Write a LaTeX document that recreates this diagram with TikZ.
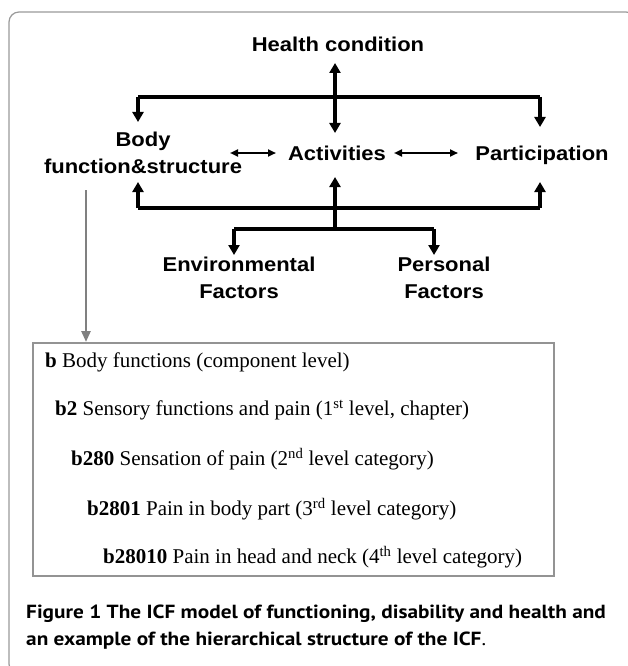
\documentclass[tikz,border=0pt]{standalone}
\usepackage{fontspec}
\setmainfont{Liberation Serif}
\newfontfamily\armfont{Liberation Sans}[FakeStretch=1.1]
\newfontfamily\capfont{PT Sans}[FakeStretch=1.12]
\usepackage{tikz}
\usetikzlibrary{arrows.meta}

\begin{document}
\begin{tikzpicture}[x=1pt,y=-1pt,
  icf/.style={font=\armfont\bfseries\fontsize{20}{27}\selectfont, align=center, inner sep=0pt},
  level/.style={font=\fontsize{21}{24}\selectfont, anchor=west, inner sep=0pt},
  bar/.style={line width=4pt},
  bararrow/.style={line width=4pt, -{Triangle[width=11pt,length=10pt]}},
  thin2/.style={line width=2.2pt, {Triangle[width=7pt,length=8pt]}-{Triangle[width=7pt,length=8pt]}},
  grayarrow/.style={line width=2.5pt, color=gray, -{Triangle[width=9pt,length=11pt]}}]
\useasboundingbox (0,0) rectangle (628,666);
\clip (0,0) rectangle (628,666);
% outer frame
\draw [line width=1.2pt, color=gray!80, rounded corners=10pt] (9,12) rectangle (636,674);
% components
\node [icf, anchor=base] (hc) at (338,52) {Health condition};
\node [icf] (body) at (143,153) {Body\\function\&structure};
\node [icf, anchor=base] (act) at (337,160) {Activities};
\node [icf, anchor=base] (part) at (542,160) {Participation};
\node [icf] (env) at (239,278) {Environmental\\Factors};
\node [icf] (pers) at (444,278) {Personal\\Factors};
% bar corners and tips
\coordinate (tl) at (138,97);
\coordinate (tr) at (540,97);
\coordinate (bl) at (138,208);
\coordinate (br) at (540,208);
\coordinate (fl) at (234,229);
\coordinate (fr) at (434,229);
\coordinate (fm) at (335,229);
\coordinate (hcTip) at (335,63);
\coordinate (actTop) at (335,133);
\coordinate (actBot) at (335,177);
\coordinate (bodyTop) at (138,122);
\coordinate (bodyBot) at (138,182);
\coordinate (partTop) at (540,127);
\coordinate (partBot) at (540,182);
\coordinate (envTop) at (234,255);
\coordinate (persTop) at (434,255);
% top bar
\draw [bar] (tl) -- (tr);
\draw [bararrow] (tl) -- (bodyTop);
\draw [bararrow] (tr) -- (partTop);
\draw [bararrow, {Triangle[width=11pt,length=10pt]}-{Triangle[width=11pt,length=10pt]}] (hcTip) -- (actTop);
% middle row
\draw [thin2] (230,153) -- (276,153);
\draw [thin2] (394,153) -- (458,153);
% bottom bar
\draw [bar] (bl) -- (br);
\draw [bararrow] (bl) -- (bodyBot);
\draw [bararrow] (br) -- (partBot);
\draw [bararrow] (fm) -- (actBot);
\draw [bar] (fl) -- (fr);
\draw [bararrow] (fl) -- (envTop);
\draw [bararrow] (fr) -- (persTop);
% hierarchy box
\coordinate (gtop) at (86,190);
\node [draw=gray!85, line width=1.5pt, minimum width=521pt, minimum height=233pt, anchor=north west, inner sep=0pt] (hier) at (32,342) {};
\draw [grayarrow] (gtop) -- (gtop |- hier.north);
\node [level] (l0) at (45,362) {\textbf{b} Body functions (component level)};
\node [level] (l1) at (55,410) {\textbf{b2} Sensory functions and pain (1\textsuperscript{st} level, chapter)};
\node [level] (l2) at (71,459) {\textbf{b280} Sensation of pain (2\textsuperscript{nd} level category)};
\node [level] (l3) at (87,509) {\textbf{b2801} Pain in body part (3\textsuperscript{rd} level category)};
\node [level] (l4) at (103,557) {\textbf{b28010} Pain in head and neck (4\textsuperscript{th} level category)};
% caption
\node [anchor=west, align=left, inner sep=0pt, font=\capfont\fontsize{19}{27}\selectfont] (cap) at (26,627)
  {\textbf{Figure 1 The ICF model of functioning, disability and health and}\\
   \textbf{an example of the hierarchical structure of the ICF}.};
\end{tikzpicture}
\end{document}
